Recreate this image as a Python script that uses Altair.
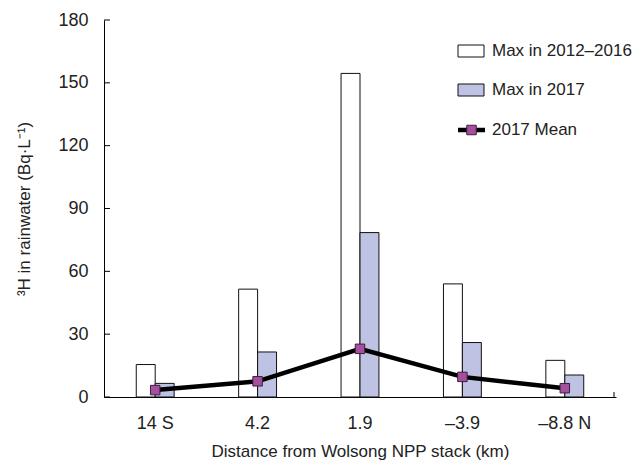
import altair as alt
import pandas as pd

categories = ["14 S", "4.2", "1.9", "–3.9", "–8.8 N"]
max_2012_2016 = [15.5, 51.5, 154.5, 54.0, 17.5]
max_2017 = [6.5, 21.5, 78.5, 26.0, 10.5]
mean_2017 = [3.3, 7.5, 23.0, 9.6, 4.2]
series_names = ["Max in 2012–2016", "Max in 2017"]
y_ticks = [0, 30, 60, 90, 120, 150, 180]

FONT = "Liberation Sans"
BLUE = "#bec2e3"
PURPLE = "#a5509f"

bars_df = pd.DataFrame({
    "cat": categories * 2,
    "series": [series_names[0]] * 5 + [series_names[1]] * 5,
    "value": max_2012_2016 + max_2017,
})
mean_df = pd.DataFrame({"cat": categories, "mean": mean_2017})
ticks_df = pd.DataFrame({"v": y_ticks})

x_enc = alt.X(
    "cat:N", sort=categories,
    scale=alt.Scale(paddingInner=0.63, paddingOuter=0.315),
    axis=alt.Axis(title="Distance from Wolsong NPP stack (km)", ticks=False, tickSize=0,
                  labelPadding=17, labelAngle=0, titlePadding=11),
)
y_enc = alt.Y(
    "value:Q", scale=alt.Scale(domain=[0, 180], nice=False, zero=True),
    axis=alt.Axis(title="³H in rainwater (Bq·L⁻¹)", values=y_ticks, ticks=False, tickSize=0,
                  labelPadding=16, grid=False, titlePadding=24),
)

bars = alt.Chart(bars_df).mark_bar(stroke="#111111", strokeWidth=1, opacity=1).encode(
    x=x_enc,
    xOffset=alt.XOffset("series:N", sort=series_names, scale=alt.Scale(paddingInner=0, paddingOuter=0)),
    y=y_enc,
    fill=alt.Fill("series:N", scale=alt.Scale(domain=series_names, range=["white", BLUE]), legend=None),
)

line = alt.Chart(mean_df).mark_line(color="black", strokeWidth=4.5).encode(
    x=alt.X("cat:N", sort=categories),
    y=alt.Y("mean:Q"),
)
points = alt.Chart(mean_df).mark_point(shape="square", filled=True, size=90, fill=PURPLE,
                                       stroke="#3b1f3a", strokeWidth=1, opacity=1).encode(
    x=alt.X("cat:N", sort=categories),
    y=alt.Y("mean:Q"),
)

yticks = alt.Chart(ticks_df).mark_rule(color="black", strokeWidth=1).encode(
    x=alt.value(0), x2=alt.value(6), y=alt.Y("v:Q"),
)

one = alt.Data(values=[{"a": 1}])
end_tick = alt.Chart(one).mark_rule(color="black", strokeWidth=1).encode(
    x=alt.value(510), y=alt.value(377), y2=alt.value(372))

# manual legend
LX0, LX1, TX = 354, 380, 388
rows = [31, 70, 110]
leg = []
leg.append(alt.Chart(one).mark_rect(fill="white", stroke="#111111", strokeWidth=1).encode(
    x=alt.value(LX0), x2=alt.value(LX1), y=alt.value(rows[0] - 6), y2=alt.value(rows[0] + 6)))
leg.append(alt.Chart(one).mark_rect(fill=BLUE, stroke="#111111", strokeWidth=1).encode(
    x=alt.value(LX0), x2=alt.value(LX1), y=alt.value(rows[1] - 6), y2=alt.value(rows[1] + 6)))
leg.append(alt.Chart(one).mark_rule(color="black", strokeWidth=4.5).encode(
    x=alt.value(LX0), x2=alt.value(LX1 + 1), y=alt.value(rows[2])))
leg.append(alt.Chart(one).mark_point(shape="square", filled=True, size=90, fill=PURPLE,
                                     stroke="#3b1f3a", strokeWidth=1, opacity=1).encode(
    x=alt.value((LX0 + LX1 + 1) / 2), y=alt.value(rows[2])))
labels = ["Max in 2012–2016", "Max in 2017", "2017 Mean"]
for lab, ry in zip(labels, rows):
    leg.append(alt.Chart(one).mark_text(text=lab, align="left", baseline="middle", font=FONT,
                                        fontSize=17, color="#222222").encode(
        x=alt.value(TX), y=alt.value(ry)))

chart = alt.layer(bars, line, points, yticks, end_tick, *leg).properties(
    width=512, height=377,
    autosize=alt.AutoSizeParams(type="none"),
    padding={"left": 96, "top": 12, "right": 19, "bottom": 66},
).configure_view(stroke=None).configure_axis(
    domainColor="black", domainWidth=1, labelFont=FONT, titleFont=FONT,
    labelFontSize=18, labelColor="#222222", titleColor="#222222",
    titleFontWeight="normal", titleFontSize=17,
)

chart.save("out.html", embed_options={"renderer": "svg", "actions": False})
